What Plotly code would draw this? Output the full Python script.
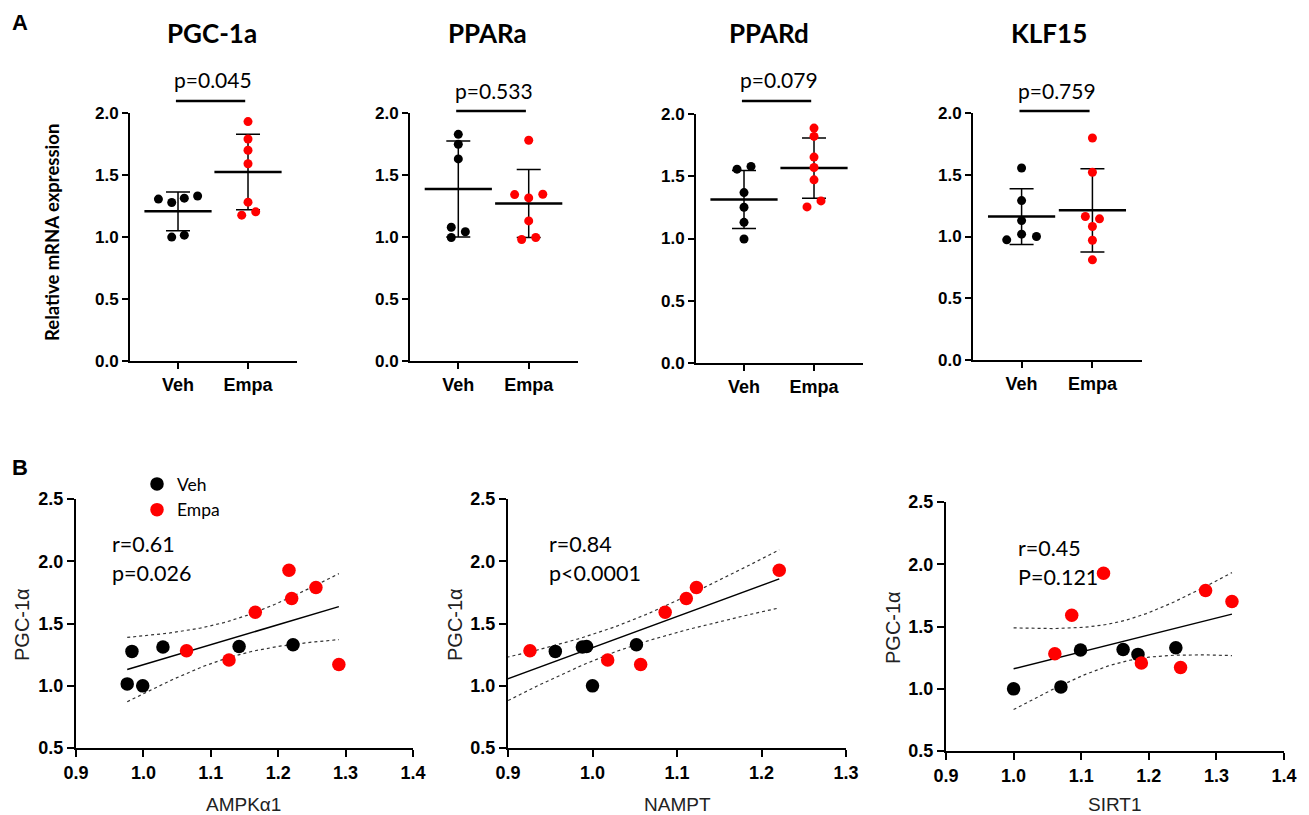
import numpy as np
import plotly.graph_objects as go

# ---------------- data ----------------
genes = ["PGC-1a", "PPARa", "PPARd", "KLF15"]
groups = ["Veh", "Empa"]
p_labels = ["p=0.045", "p=0.533", "p=0.079", "p=0.759"]

veh_expr = {
    "PGC-1a": [1.306, 1.278, 1.313, 1.331, 0.999, 1.015],
    "PPARa": [1.828, 1.748, 1.630, 1.079, 1.042, 0.996],
    "PPARd": [1.557, 1.579, 1.369, 1.251, 1.130, 0.996],
    "KLF15": [1.555, 1.291, 1.129, 1.019, 0.973, 1.000],
}
empa_expr = {
    "PGC-1a": [1.931, 1.790, 1.700, 1.591, 1.281, 1.176, 1.203],
    "PPARa": [1.780, 1.342, 1.315, 1.345, 1.130, 0.980, 0.996],
    "PPARd": [1.887, 1.820, 1.654, 1.570, 1.471, 1.302, 1.254],
    "KLF15": [1.798, 1.520, 1.162, 1.143, 1.081, 0.970, 0.811],
}
# horizontal scatter (jitter) of the dots, in category units
veh_jitter = {
    "PGC-1a": [-0.28, -0.09, 0.09, 0.28, -0.09, 0.09],
    "PPARa": [0, 0, 0, -0.1, 0.1, -0.1],
    "PPARd": [-0.1, 0.1, 0, 0, 0, 0],
    "KLF15": [0, 0, 0, 0, -0.21, 0.21],
}
empa_jitter = {
    "PGC-1a": [0, 0, 0, 0, 0, -0.09, 0.11],
    "PPARa": [0, -0.2, 0, 0.2, 0, -0.1, 0.1],
    "PPARd": [0, 0, 0, 0, 0, 0.1, -0.1],
    "KLF15": [0, 0, -0.1, 0.1, 0, 0, 0],
}

corr_names = ["AMPK\u03b11", "NAMPT", "SIRT1"]
corr_stats = [("r=0.61", "p=0.026"), ("r=0.84", "p<0.0001"), ("r=0.45", "P=0.121")]
veh_corr_x = {
    "AMPK\u03b11": [0.983, 1.029, 0.976, 0.999, 1.142, 1.222],
    "NAMPT": [0.956, 0.988, 0.993, 1.000, 1.052, 0.843],
    "SIRT1": [1.000, 1.070, 1.099, 1.162, 1.184, 1.240],
}
veh_corr_y = {
    "AMPK\u03b11": [1.276, 1.311, 1.015, 0.999, 1.316, 1.330],
    "NAMPT": [1.276, 1.311, 1.316, 0.999, 1.330, 1.015],
    "SIRT1": [0.999, 1.015, 1.311, 1.316, 1.276, 1.330],
}
empa_corr_x = {
    "AMPK\u03b11": [1.064, 1.127, 1.166, 1.216, 1.220, 1.256, 1.290],
    "NAMPT": [0.926, 1.018, 1.057, 1.086, 1.111, 1.123, 1.221],
    "SIRT1": [1.061, 1.086, 1.133, 1.189, 1.247, 1.284, 1.323],
}
empa_corr_y = {
    "AMPK\u03b11": [1.281, 1.206, 1.590, 1.928, 1.700, 1.789, 1.171],
    "NAMPT": [1.281, 1.206, 1.171, 1.590, 1.700, 1.789, 1.928],
    "SIRT1": [1.281, 1.590, 1.928, 1.206, 1.171, 1.789, 1.700],
}
corr_x_ranges = [[0.9, 1.4], [0.9, 1.3], [0.9, 1.4]]
T_CRIT = 2.201  # t(0.975, df=11)

# ---------------- layout helpers ----------------
W, H = 1309, 815
OFF = 8  # page body margin
FW, FH = W - OFF, H - OFF


def fx(px):
    return (px - OFF) / FW


def fy(py):
    return 1 - (py - OFF) / FH


TOP_PX = [(130, 297, 113, 361), (410, 578, 113, 361), (696, 863, 114, 363), (973, 1142, 113, 360)]
BOT_PX = [(76, 413, 499, 748), (508, 846, 499, 748), (946, 1284, 502, 751)]
TOP_XRANGE = [-0.686, 1.7]

BLACK = "#000000"
RED = "#ff0000"
ARIAL = "Liberation Sans"
CALIBRI = "Lato"

fig = go.Figure()
layout = dict(
    template="none",
    width=FW, height=FH, margin=dict(l=0, r=0, t=0, b=0, pad=0, autoexpand=False),
    paper_bgcolor="white", plot_bgcolor="white",
    showlegend=True, hovermode=False,
)
annotations = []
shapes = []


def axis_style(**kw):
    d = dict(showline=True, linecolor=BLACK, linewidth=2, ticks="outside",
             ticklen=6, tickwidth=2, tickcolor=BLACK, showgrid=False,
             zeroline=False, fixedrange=True, automargin=False,
             tickfont=dict(family=ARIAL, size=17, color=BLACK, weight="bold"))
    d.update(kw)
    return d


# ---------------- panel A ----------------
for i, gene in enumerate(genes):
    n = i + 1
    xk = "x" if n == 1 else f"x{n}"
    yk = "y" if n == 1 else f"y{n}"
    x0, x1, y0, y1 = TOP_PX[i]
    layout["xaxis" if n == 1 else f"xaxis{n}"] = axis_style(
        domain=[fx(x0), fx(x1)], range=TOP_XRANGE, anchor=yk,
        tickvals=[0, 1], ticktext=groups,
        tickfont=dict(family=ARIAL, size=18, color=BLACK, weight="bold"))
    layout["yaxis" if n == 1 else f"yaxis{n}"] = axis_style(
        domain=[fy(y1), fy(y0)], range=[0, 2.0], anchor=xk,
        tickvals=[0, 0.5, 1.0, 1.5, 2.0], tickformat=".1f")

    for g, (vals, jit, col) in enumerate([(veh_expr[gene], veh_jitter[gene], BLACK),
                                          (empa_expr[gene], empa_jitter[gene], RED)]):
        v = np.array(vals)
        m = v.mean()
        sd = v.std(ddof=1)
        fig.add_trace(go.Scatter(
            x=[g], y=[m], mode="markers", xaxis=xk, yaxis=yk, showlegend=False,
            hoverinfo="skip", cliponaxis=False,
            marker=dict(symbol="line-ew", size=48, color=BLACK,
                        line=dict(width=2.5, color=BLACK)),
            error_y=dict(type="data", array=[sd], visible=True, color=BLACK,
                         thickness=1.5, width=12)))
        fig.add_trace(go.Scatter(
            x=g + np.array(jit), y=v, mode="markers", xaxis=xk, yaxis=yk,
            showlegend=False, cliponaxis=False,
            marker=dict(size=9, color=col, line=dict(width=0))))

    # helper to map category coordinate to pixel
    def cat_px(c, x0=x0, x1=x1):
        return x0 + (c - TOP_XRANGE[0]) / (TOP_XRANGE[1] - TOP_XRANGE[0]) * (x1 - x0)

    bar_y = 101 if i in (0, 2) else 111
    shapes.append(dict(type="line", xref="paper", yref="paper",
                       x0=fx(cat_px(-0.03)), x1=fx(cat_px(0.96)),
                       y0=fy(bar_y), y1=fy(bar_y),
                       line=dict(color=BLACK, width=2.5)))
    annotations.append(dict(text=p_labels[i], xref="paper", yref="paper",
                            x=fx(cat_px(0.5)), y=fy(bar_y - 21), showarrow=False,
                            xanchor="center", yanchor="middle",
                            font=dict(family=CALIBRI, size=21, color=BLACK)))
    title_x = [212, 487, 769, 1049][i]
    annotations.append(dict(text=gene, xref="paper", yref="paper",
                            x=fx(title_x), y=fy(33), showarrow=False,
                            xanchor="center", yanchor="middle",
                            font=dict(family=CALIBRI, size=26, color=BLACK, weight="bold")))

annotations.append(dict(text="Relative mRNA expression", xref="paper", yref="paper",
                        x=fx(52), y=fy(233), showarrow=False, textangle=-90,
                        xanchor="center", yanchor="middle",
                        font=dict(family=CALIBRI, size=18.5, color=BLACK, weight="bold")))
annotations.append(dict(text="A", xref="paper", yref="paper", x=fx(20), y=fy(22),
                        showarrow=False, xanchor="center", yanchor="middle",
                        font=dict(family=ARIAL, size=22, color=BLACK, weight="bold")))
annotations.append(dict(text="B", xref="paper", yref="paper", x=fx(20), y=fy(467),
                        showarrow=False, xanchor="center", yanchor="middle",
                        font=dict(family=ARIAL, size=22, color=BLACK, weight="bold")))

# ---------------- panel B ----------------
title_pos_y = [(22, 625), (455, 625), (893, 627)]
title_pos_x = [(243, 804), (677, 804), (1115, 804)]
stat_pos = [(110, 544, 573), (547, 544, 573), (1016, 548, 577)]

for k, name in enumerate(corr_names):
    n = 5 + k
    xk, yk = f"x{n}", f"y{n}"
    x0, x1, y0, y1 = BOT_PX[k]
    xr = corr_x_ranges[k]
    layout[f"xaxis{n}"] = axis_style(
        domain=[fx(x0), fx(x1)], range=xr, anchor=yk, ticklen=7,
        tickvals=list(np.round(np.arange(xr[0], xr[1] + 1e-9, 0.1), 1)), tickformat=".1f",
        tickfont=dict(family=ARIAL, size=18, color=BLACK, weight="bold"))
    layout[f"yaxis{n}"] = axis_style(
        domain=[fy(y1), fy(y0)], range=[0.5, 2.5], anchor=xk, ticklen=7,
        tickvals=[0.5, 1.0, 1.5, 2.0, 2.5], tickformat=".1f",
        tickfont=dict(family=ARIAL, size=18, color=BLACK, weight="bold"))

    xv = np.array(veh_corr_x[name] + empa_corr_x[name])
    yv = np.array(veh_corr_y[name] + empa_corr_y[name])
    nn = len(xv)
    slope, icpt = np.polyfit(xv, yv, 1)
    xm = xv.mean()
    sxx = ((xv - xm) ** 2).sum()
    resid = yv - (slope * xv + icpt)
    s = np.sqrt((resid ** 2).sum() / (nn - 2))
    xs = np.linspace(xv.min(), xv.max(), 80)
    ys = slope * xs + icpt
    se = s * np.sqrt(1.0 / nn + (xs - xm) ** 2 / sxx)
    for band in (ys + T_CRIT * se, ys - T_CRIT * se):
        fig.add_trace(go.Scatter(x=xs, y=band, mode="lines", xaxis=xk, yaxis=yk,
                                 showlegend=False, hoverinfo="skip",
                                 line=dict(color="#333333", width=1.2, dash="dot")))
    fig.add_trace(go.Scatter(x=xs, y=ys, mode="lines", xaxis=xk, yaxis=yk,
                             showlegend=False, hoverinfo="skip",
                             line=dict(color=BLACK, width=1.5)))
    fig.add_trace(go.Scatter(x=veh_corr_x[name], y=veh_corr_y[name], mode="markers",
                             xaxis=xk, yaxis=yk, name="Veh", showlegend=(k == 0),
                             marker=dict(size=13.5, color=BLACK)))
    fig.add_trace(go.Scatter(x=empa_corr_x[name], y=empa_corr_y[name], mode="markers",
                             xaxis=xk, yaxis=yk, name="Empa", showlegend=(k == 0),
                             marker=dict(size=13.5, color=RED)))

    tx, ty = title_pos_y[k]
    annotations.append(dict(text="PGC-1\u03b1", xref="paper", yref="paper",
                            x=fx(tx), y=fy(ty), showarrow=False, textangle=-90,
                            xanchor="center", yanchor="middle",
                            font=dict(family=ARIAL, size=20, color="#222222")))
    tx, ty = title_pos_x[k]
    annotations.append(dict(text=name, xref="paper", yref="paper",
                            x=fx(tx), y=fy(ty), showarrow=False,
                            xanchor="center", yanchor="middle",
                            font=dict(family=ARIAL, size=19, color="#222222")))
    sx, sy1, sy2 = stat_pos[k]
    for txt, sy in zip(corr_stats[k], (sy1, sy2)):
        annotations.append(dict(text=txt, xref="paper", yref="paper",
                                x=fx(sx), y=fy(sy), showarrow=False,
                                xanchor="left", yanchor="middle",
                                font=dict(family=CALIBRI, size=21.5, color=BLACK)))

layout["legend"] = dict(x=fx(137), y=fy(466), xanchor="left", yanchor="top",
                        bgcolor="rgba(0,0,0,0)", borderwidth=0,
                        font=dict(family=CALIBRI, size=17.5, color=BLACK),
                        tracegroupgap=0, itemwidth=30)
layout["annotations"] = annotations
layout["shapes"] = shapes
fig.update_layout(**layout)
fig.write_html("out.html")
